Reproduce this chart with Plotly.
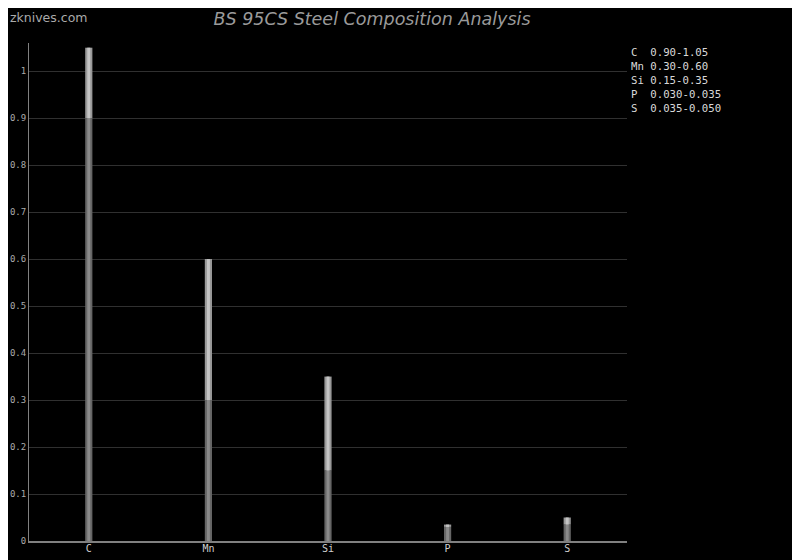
import plotly.graph_objects as go

elements = ["C", "Mn", "Si", "P", "S"]
min_vals = [0.90, 0.30, 0.15, 0.030, 0.035]
max_vals = [1.05, 0.60, 0.35, 0.035, 0.050]
range_labels = ["0.90-1.05", "0.30-0.60", "0.15-0.35", "0.030-0.035", "0.035-0.050"]
y_ticks = [0, 0.1, 0.2, 0.3, 0.4, 0.5, 0.6, 0.7, 0.8, 0.9, 1]
y_tick_text = ["0", "0.1", "0.2", "0.3", "0.4", "0.5", "0.6", "0.7", "0.8", "0.9", "1"]

upper = [mx - mn for mx, mn in zip(max_vals, min_vals)]

mono = "DejaVu Sans Mono"
L, R, T, B = 21, 181, 35, 27
PW, PH = 800 - L - R, 560 - T - B

fig = go.Figure()
# lower (min) part
fig.add_trace(go.Bar(x=elements, y=min_vals, width=0.06,
                     marker=dict(color="#666666", line=dict(width=0)),
                     showlegend=False, hoverinfo="skip"))
fig.add_trace(go.Bar(x=elements, y=min_vals, width=0.025,
                     marker=dict(color="#8a8a8a", line=dict(width=0)),
                     showlegend=False, hoverinfo="skip"))
# upper (range) part
fig.add_trace(go.Bar(x=elements, y=upper, base=min_vals, width=0.06,
                     marker=dict(color="#999999", line=dict(width=0)),
                     showlegend=False, hoverinfo="skip"))
fig.add_trace(go.Bar(x=elements, y=upper, base=min_vals, width=0.025,
                     marker=dict(color="#c4c4c4", line=dict(width=0)),
                     showlegend=False, hoverinfo="skip"))

legend_text = "<br>".join(f"{e:<3}{r}" for e, r in zip(elements, range_labels)).replace(" ", "&nbsp;")

fig.update_layout(
    width=800, height=560,
    paper_bgcolor="#000000", plot_bgcolor="#000000",
    barmode="overlay",
    margin=dict(l=L, r=R, t=T, b=B),
    title=dict(text="BS 95CS Steel Composition Analysis", x=364/800, xanchor="center",
               y=1 - 11/560, yanchor="middle",
               font=dict(family="DejaVu Sans", size=17.5, color="#9a9a9a", style="italic")),
    xaxis=dict(showgrid=False, showline=True, linecolor="#808080", linewidth=2,
               tickfont=dict(family=mono, size=10, color="#cfcfcf"), ticks="",
               automargin=False, ticklabelstandoff=-3),
    yaxis=dict(range=[0, 1.06], tickvals=y_ticks, ticktext=y_tick_text,
               showgrid=True, gridcolor="#303030", gridwidth=1,
               showline=True, linecolor="#808080", linewidth=1, zeroline=False,
               tickfont=dict(family=mono, size=9, color="#aaaaaa"), ticks="",
               automargin=False, ticklabelstandoff=0),
    annotations=[
        dict(text="zknives.com", xref="paper", yref="paper", x=-L / PW, y=1 + (T - 9) / PH,
             xanchor="left", yanchor="middle", showarrow=False,
             font=dict(family="DejaVu Sans", size=12.5, color="#aaaaaa")),
        dict(text=legend_text, xref="paper", yref="paper", x=(621 - L) / PW, y=1 - 1 / PH,
             xanchor="left", yanchor="top", align="left", showarrow=False,
             font=dict(family=mono, size=10.7, color="#d8d8d8")),
    ],
)

fig.write_html("out.html")
